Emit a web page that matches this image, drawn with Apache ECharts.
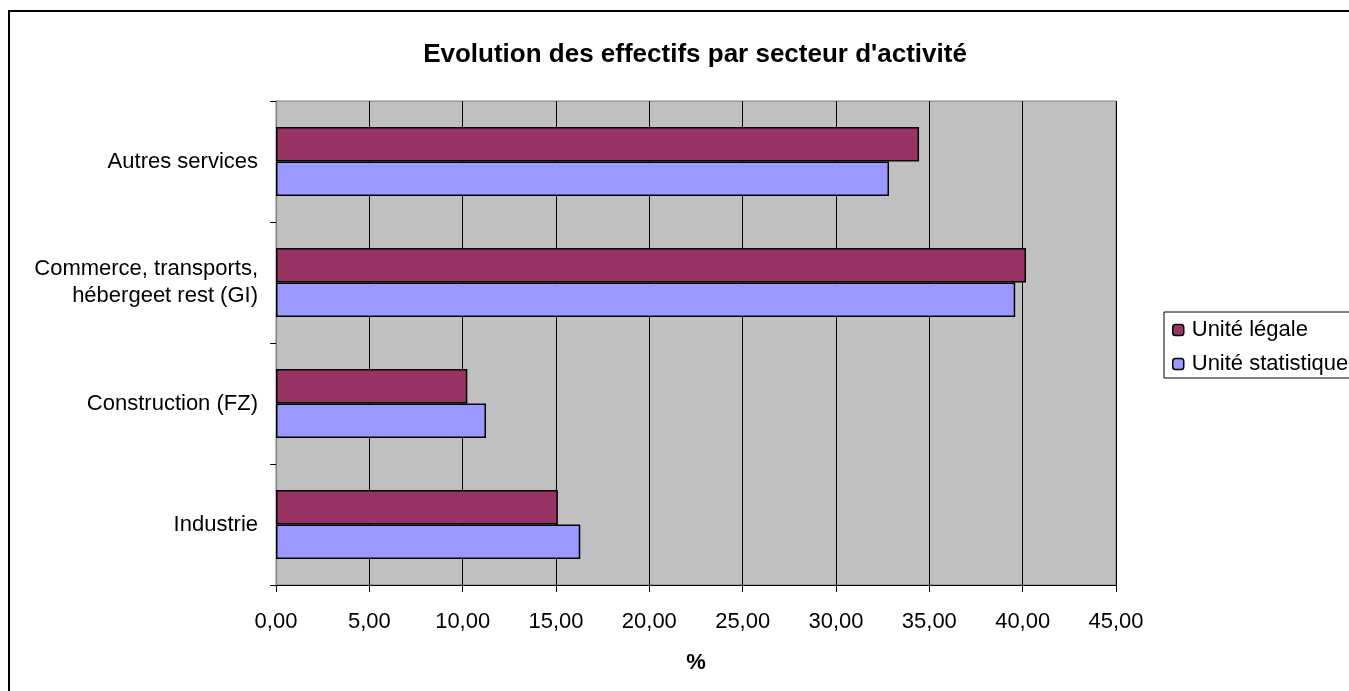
<!DOCTYPE html>
<html><head><meta charset="utf-8">
<script src="https://cdn.jsdelivr.net/npm/echarts@6/dist/echarts.min.js"></script>
<style>html,body{margin:0;padding:0;background:#fff;}#c{width:1349px;height:691px;}</style>
</head><body><div id="c"></div>
<script>
const categories = ['Industrie', 'Construction (FZ)', 'Commerce, transports,\nhébergeet rest (GI)', 'Autres services'];
const uniteLegale = [15.1, 10.25, 40.18, 34.45];
const uniteStatistique = [16.3, 11.25, 39.6, 32.84];
const seriesNames = ['Unité légale', 'Unité statistique'];
const titleText = "Evolution des effectifs par secteur d'activité";
const xAxisName = '%';

const chart = echarts.init(document.getElementById('c'));
const font = 'Liberation Sans, Arial, sans-serif';
chart.setOption({
  animation: false,
  textStyle: {fontFamily: font},
  title: {text: titleText, left: 690, textAlign: 'center', top: 37,
    textStyle: {fontFamily: font, fontWeight: 'bold', fontSize: 26, color: '#000'}},
  graphic: [{type: 'rect', shape: {x: 9, y: 11, width: 1400, height: 700}, style: {fill: 'none', stroke: '#000', lineWidth: 2}, silent: true}],
  legend: {left: 1164, top: 312, orient: 'vertical', itemWidth: 11, itemHeight: 11, itemGap: 12,
    padding: [7, 8, 3, 8], borderColor: '#000', borderWidth: 1, backgroundColor: '#fff',
    textStyle: {fontFamily: font, fontSize: 22, color: '#000', padding: [0, 0, 0, 3]},
    data: seriesNames.map(n => ({name: n, itemStyle: {borderColor: '#000', borderWidth: 1.5}}))},
  grid: {left: 276, top: 101, width: 840, height: 484, show: true, backgroundColor: '#C0C0C0', borderColor: '#808080', borderWidth: 1},
  xAxis: {type: 'value', min: 0, max: 45, interval: 5,
    name: xAxisName, nameLocation: 'middle', nameGap: 67,
    nameTextStyle: {fontFamily: font, fontWeight: 'bold', fontSize: 22, color: '#000'},
    axisLine: {show: true, lineStyle: {color: '#000'}},
    axisTick: {show: true, length: 7, lineStyle: {color: '#000'}},
    axisLabel: {fontFamily: font, fontSize: 22, color: '#000', margin: 26, formatter: v => v.toFixed(2).replace('.', ',')},
    splitLine: {show: true, lineStyle: {color: '#000', width: 1}}},
  yAxis: {type: 'category', data: categories,
    axisLine: {show: true, lineStyle: {color: '#808080', width: 1}},
    axisTick: {show: true, length: 6, alignWithLabel: false, lineStyle: {color: '#000'}},
    axisLabel: {fontFamily: font, fontSize: 22, color: '#000', margin: 18, lineHeight: 27, align: 'right'}},
  series: [
    {name: seriesNames[0], type: 'bar', data: uniteLegale, barGap: '0%', barCategoryGap: '43%',
      itemStyle: {color: '#993366', borderColor: '#000', borderWidth: 1.5}},
    {name: seriesNames[1], type: 'bar', data: uniteStatistique, barGap: '0%', barCategoryGap: '43%',
      itemStyle: {color: '#9999FF', borderColor: '#000', borderWidth: 1.5}}
  ]
});
</script></body></html>
